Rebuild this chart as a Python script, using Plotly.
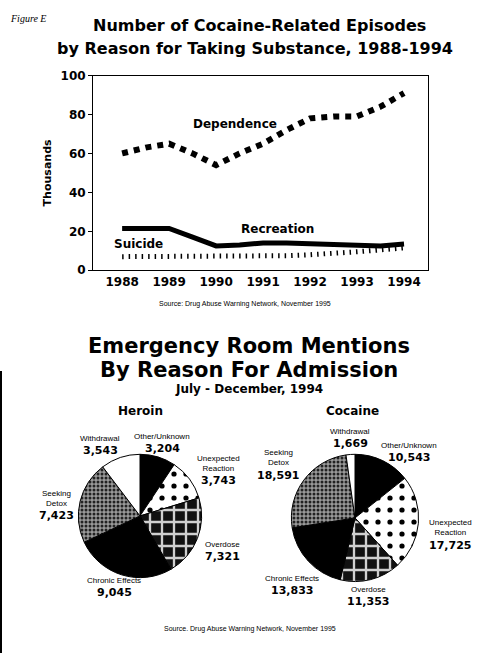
import plotly.graph_objects as go

# ---------------- data ----------------
years = [1988, 1988.5, 1989, 1989.5, 1990, 1990.5, 1991, 1991.5, 1992, 1992.5, 1993, 1993.5, 1994]
dependence = [60, 63, 65, 60, 54, 60, 65, 72, 78, 79, 79, 84, 91]
recreation = [21.5, 21.5, 21.5, 17, 12.5, 13, 14, 14, 13.5, 13, 12.5, 12.5, 13.5]
suicide = [7, 7, 7, 7, 7, 7, 7.5, 7.5, 8, 8.5, 9.5, 10.5, 11.5]
year_ticks = [1988, 1989, 1990, 1991, 1992, 1993, 1994]
y_ticks = [0, 20, 40, 60, 80, 100]

pie_labels = ["Other/Unknown", "Unexpected<br>Reaction", "Overdose", "Chronic Effects", "Seeking<br>Detox", "Withdrawal"]
heroin_values = [3204, 3743, 7321, 9045, 7423, 3543]
cocaine_values = [10543, 17725, 11353, 13833, 18591, 1669]

# ---------------- styles ----------------
HEAVY = "DejaVu Sans"
slice_bg = ["#000000", "#ffffff", "#111111", "#000000", "#9a9a9a", "#ffffff"]
slice_fg = ["#000000", "#000000", "#d0d0d0", "#000000", "#222222", "#ffffff"]
slice_shape = ["", ".", "+", "", ".", ""]
slice_size = [8, 12, 12, 8, 4, 8]
slice_solid = [0.3, 0.15, 0.35, 0.3, 0.45, 0.3]

fig = go.Figure()

fig.add_trace(go.Scatter(x=years, y=dependence, mode="lines",
                         line=dict(color="black", width=6, dash="6px,6px"),
                         hoverinfo="skip", showlegend=False))
fig.add_trace(go.Scatter(x=years, y=recreation, mode="lines",
                         line=dict(color="black", width=5),
                         hoverinfo="skip", showlegend=False))
fig.add_trace(go.Scatter(x=years, y=suicide, mode="lines",
                         line=dict(color="black", width=5, dash="1.5px,5px"),
                         hoverinfo="skip", showlegend=False))

pie_common = dict(sort=False, direction="clockwise", rotation=0, textinfo="none",
                  hoverinfo="label+value", showlegend=False,
                  marker=dict(colors=slice_bg, line=dict(color="black", width=1),
                              pattern=dict(shape=slice_shape, fgcolor=slice_fg, bgcolor=slice_bg,
                                           size=slice_size, solidity=slice_solid, fillmode="replace")))
fig.add_trace(go.Pie(labels=pie_labels, values=heroin_values,
                     domain=dict(x=[77/480, 203/480], y=[77/660, 203/660]), **pie_common))
fig.add_trace(go.Pie(labels=pie_labels, values=cocaine_values,
                     domain=dict(x=[290/480, 420/480], y=[73/660, 203/660]), **pie_common))

fig.update_layout(
    width=480, height=660, margin=dict(l=0, r=0, t=0, b=0),
    paper_bgcolor="white", plot_bgcolor="white",
    xaxis=dict(domain=[93/480, 428/480], range=[1987.38, 1994.51],
               tickvals=year_ticks, ticktext=[str(y) for y in year_ticks],
               showgrid=False, zeroline=False, showline=True, linecolor="black", linewidth=1,
               mirror=True, ticks="", tickfont=dict(family=HEAVY, size=12, color="black", weight="bold")),
    yaxis=dict(domain=[(660-269)/660, (660-70)/660], range=[0, 100],
               tickvals=y_ticks, showgrid=False, zeroline=False, showline=True,
               linecolor="black", linewidth=1, mirror=True, ticks="outside", ticklen=4,
               tickcolor="black",
               tickfont=dict(family=HEAVY, size=12, color="black", weight="bold"),
               title=dict(text="Thousands", font=dict(family=HEAVY, size=11, color="black", weight="bold"),
                          standoff=6)),
    shapes=[dict(type="line", xref="paper", yref="paper", x0=1/480, x1=1/480,
                 y0=0, y1=(660-372)/660, line=dict(color="black", width=2))],
)

ann = []
def A(text, x, y, size, bold=False, family=HEAVY, xref="paper", yref="paper", italic=False, **kw):
    t = text
    if italic:
        t = "<i>" + t + "</i>"
    if xref == "paper":
        x = x / 480
    if yref == "paper":
        y = (660 - y) / 660
    ann.append(dict(text=t, x=x, y=y, xref=xref, yref=yref, showarrow=False,
                    xanchor="center", yanchor="middle",
                    font=dict(family=family, size=size, color="black", weight="bold" if bold else "normal"),
                    **kw))

A("Figure E", 28, 12, 10, family="Liberation Serif", italic=True)
A("Number of Cocaine-Related Episodes", 259, 19, 16, bold=True)
A("by Reason for Taking Substance, 1988-1994", 255, 42, 16, bold=True)

A("Dependence", 1990.4, 75, 12, bold=True, xref="x", yref="y")
A("Recreation", 1991.3, 21, 12, bold=True, xref="x", yref="y")
A("Suicide", 1988.35, 13.5, 12, bold=True, xref="x", yref="y")

A("Source: Drug Abuse Warning Network, November 1995", 245, 303, 7, family="Liberation Sans")

A("Emergency Room Mentions", 249, 346, 21, bold=True)
A("By Reason For Admission", 249, 370.5, 21, bold=True)
A("July - December, 1994", 249, 390, 12, bold=True)
A("Heroin", 140, 413, 12, bold=True)
A("Cocaine", 352, 413, 12, bold=True)

# pie labels: (x, name centre y, value centre y)
heroin_pos = [(162, 439, 451), (218, 466, 484), (222, 549, 561), (114, 586, 598), (56, 502, 520), (100, 441, 453)]
cocaine_pos = [(409, 448, 460), (450, 532, 550), (368, 595, 607), (292, 584, 596), (278, 460, 479), (350, 434, 446)]
for values, positions in ((heroin_values, heroin_pos), (cocaine_values, cocaine_pos)):
    for name, val, (x, yn, yv) in zip(pie_labels, values, positions):
        A(name, x, yn, 8, family="Liberation Sans")
        A("{:,}".format(val), x, yv, 11, bold=True)

A("Source. Drug Abuse Warning Network, November 1995", 250, 635, 7, family="Liberation Sans")

fig.update_layout(annotations=ann)
fig.write_html("out.html", config={"displayModeBar": False},
               post_script="document.body.style.margin='0';document.body.style.padding='0';")
